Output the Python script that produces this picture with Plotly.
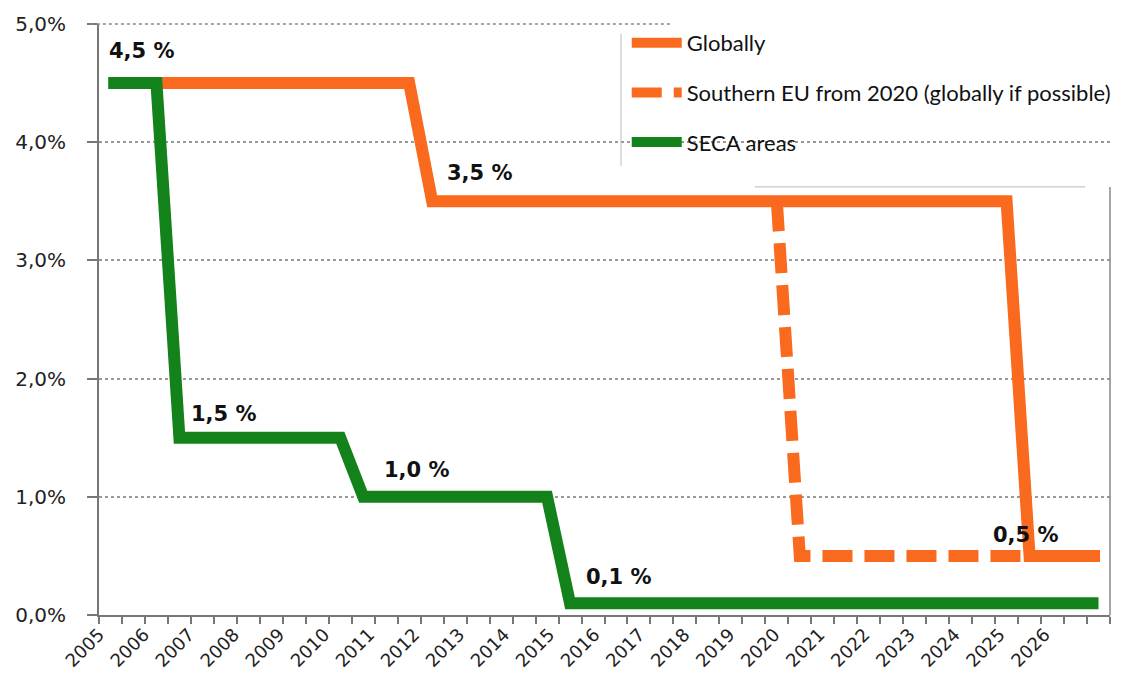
import plotly.graph_objects as go

years = list(range(2005, 2027))
year_labels = [str(y) for y in years]

y_ticks = [0, 1, 2, 3, 4, 5]
y_tick_labels = ["0,0%", "1,0%", "2,0%", "3,0%", "4,0%", "5,0%"]

globally_x = [2005.25, 2011.75, 2012.25, 2024.75, 2025.25, 2026.78]
globally_y = [4.5, 4.5, 3.5, 3.5, 0.5, 0.5]

southern_x = [2019.75, 2020.25, 2026.78]
southern_y = [3.5, 0.5, 0.5]

seca_x = [2005.2, 2006.25, 2006.75, 2010.25, 2010.75, 2014.75, 2015.25, 2026.75]
seca_y = [4.5, 4.5, 1.5, 1.5, 1.0, 1.0, 0.1, 0.1]

label_texts = ["4,5 %", "3,5 %", "1,5 %", "1,0 %", "0,1 %", "0,5 %"]
label_x = [2005.18, 2012.52, 2006.95, 2011.15, 2015.55, 2024.42]
label_y = [4.77, 3.74, 1.7, 1.23, 0.32, 0.68]

ORANGE = "#FA6A1E"
GREEN = "#14821A"

fig = go.Figure()
fig.add_trace(go.Scatter(x=globally_x, y=globally_y, mode="lines", name="Globally",
                         line=dict(color=ORANGE, width=12), legendgroup="a"))
fig.add_trace(go.Scatter(x=southern_x, y=southern_y, mode="lines",
                         name="Southern EU from 2020 (globally if possible)",
                         line=dict(color=ORANGE, width=12, dash="30px,12px"), legendgroup="b"))
fig.add_trace(go.Scatter(x=seca_x, y=seca_y, mode="lines", name="SECA areas",
                         line=dict(color=GREEN, width=12), legendgroup="c"))

for t, x, y in zip(label_texts, label_x, label_y):
    fig.add_annotation(x=x, y=y, text=t, showarrow=False, xanchor="left", yanchor="middle",
                       font=dict(family="DejaVu Sans", size=21, color="#111111", weight="bold"))

# decorative lines (top line partially hidden by legend, right border)
fig.add_shape(type="line", xref="paper", yref="paper", x0=-0.008, x1=0.5674, y0=1, y1=1,
              line=dict(color="#888888", width=1.5, dash="dot"))
fig.add_shape(type="line", xref="paper", yref="y", x0=1, x1=1, y0=0, y1=3.62,
              line=dict(color="#888888", width=1.5))
fig.add_shape(type="line", xref="paper", yref="paper", x0=0.6488, x1=0.9753, y0=0.7244, y1=0.7244,
              line=dict(color="#bbbbbb", width=1))
fig.add_shape(type="line", xref="paper", yref="paper", x0=0.5163, x1=0.5163, y0=0.76, y1=0.9832,
              line=dict(color="#bbbbbb", width=1))

fig.update_layout(
    width=1137, height=686,
    margin=dict(l=99, r=27, t=20, b=71),
    paper_bgcolor="white", plot_bgcolor="white",
    showlegend=True,
    legend=dict(x=0.522, y=1.0034, xanchor="left", yanchor="top",
                bgcolor="rgba(0,0,0,0)", traceorder="grouped", tracegroupgap=18,
                font=dict(family="Lato", size=22, color="#111111"),
                itemwidth=50),
)

tick_positions = [2005 + 0.98 * (y - 2005) for y in years]

fig.update_xaxes(
    range=[2005, 2027], tickmode="array", tickvals=tick_positions, ticktext=year_labels,
    tickangle=-45, ticks="", tickfont=dict(family="DejaVu Sans", size=18, color="#222222"),
    minor=dict(ticks="outside", ticklen=7, tickcolor="#777777", tickwidth=1.5,
               tickvals=[y + h for y in range(2005, 2027) for h in (0, 0.5)] + [2027]),
    showline=True, linecolor="#777777", linewidth=2, showgrid=False, zeroline=False,
)
fig.update_yaxes(
    range=[0, 5], tickmode="array", tickvals=y_ticks, ticktext=y_tick_labels,
    ticks="outside", ticklen=10, tickcolor="#777777", tickwidth=1.5,
    showline=True, linecolor="#777777", linewidth=2,
    showgrid=True, gridcolor="#999999", gridwidth=1.5, griddash="dot", zeroline=False,
    tickfont=dict(family="DejaVu Sans", size=20, color="#222222"),
    ticklabelstandoff=17,
)

fig.write_html("out.html")
